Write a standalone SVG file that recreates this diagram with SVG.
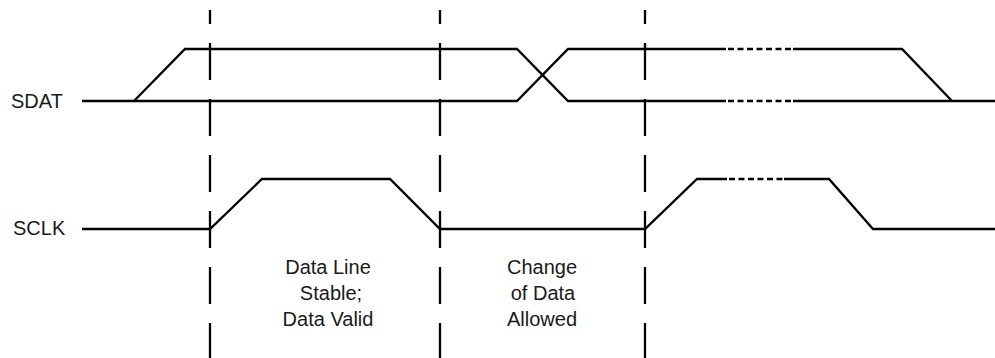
<svg xmlns="http://www.w3.org/2000/svg" width="995" height="358" viewBox="0 0 995 358">
<style>
.sig{fill:none;stroke:#000;stroke-width:2.3;stroke-linejoin:miter}
.dot{fill:none;stroke:#000;stroke-width:2.3;stroke-dasharray:6 3.5}
.vdash{fill:none;stroke:#000;stroke-width:2.3;stroke-dasharray:37 19;stroke-dashoffset:23}
text{font-family:"Liberation Sans",Arial,sans-serif;font-size:20px;fill:#1a1a1a}
.c{text-anchor:middle}
</style>
<rect width="995" height="358" fill="#fff"/>
<g id="labels">
<text x="11" y="108">SDAT</text>
<text x="13" y="235">SCLK</text>
</g>
<g id="sdat">
<polyline class="sig" points="82,101 517,101 568,49 726,49"/>
<polyline class="sig" points="134,101 185,49 517,49 568,101 726,101"/>
<polyline class="sig" points="793,101 995,101"/>
<polyline class="sig" points="793,49 902,49 952,101"/>
<line class="dot" x1="728" y1="49" x2="792" y2="49"/>
<line class="dot" x1="728" y1="101" x2="792" y2="101"/>
</g>
<g id="sclk">
<polyline class="sig" points="82,229 210,229 262,179 390,179 440,229 645,229 697,179 727,179"/>
<line class="dot" x1="729" y1="179" x2="783" y2="179"/>
<polyline class="sig" points="784,179 829,179 873,229 995,229"/>
</g>
<g id="connectors">
<line class="vdash" x1="210" y1="10" x2="210" y2="358"/>
<line class="vdash" x1="440" y1="10" x2="440" y2="358"/>
<line class="vdash" x1="645" y1="10" x2="645" y2="358"/>
</g>
<g id="note-stable">
<text class="c" x="328" y="274">Data Line</text>
<text class="c" x="331" y="300">Stable;</text>
<text class="c" x="328" y="326">Data Valid</text>
</g>
<g id="note-change">
<text class="c" x="542" y="274">Change</text>
<text class="c" x="543" y="300">of Data</text>
<text class="c" x="542" y="326">Allowed</text>
</g>
</svg>
